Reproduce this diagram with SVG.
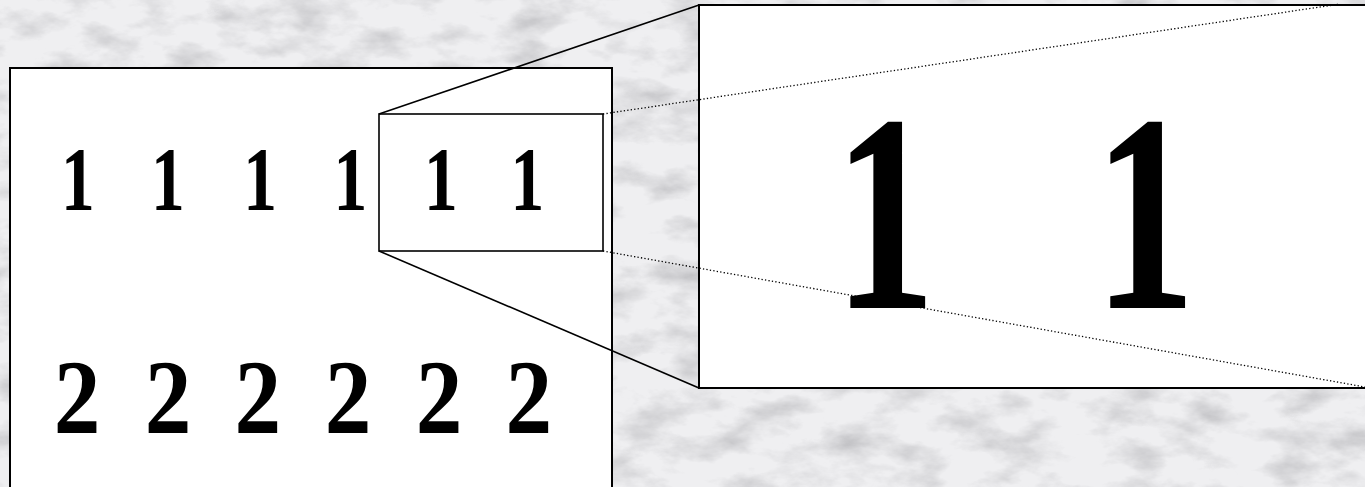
<svg xmlns="http://www.w3.org/2000/svg" width="1365" height="487" viewBox="0 0 1365 487">
<style>
.panel{fill:#fff;stroke:#000;stroke-width:2}
.box{fill:none;stroke:#000;stroke-width:1.6}
.solid{stroke:#000;stroke-width:1.6;fill:none}
.dot{stroke:#000;stroke-width:1.3;stroke-dasharray:1.3 2.2;fill:none}
.dig{font-family:"Liberation Serif","Times New Roman",serif;font-weight:bold;fill:#000;text-anchor:middle}
</style>
<defs>
<filter id="marble" x="0" y="0" width="100%" height="100%">
<feTurbulence type="fractalNoise" baseFrequency="0.018 0.035" numOctaves="5" seed="7"/>
<feColorMatrix type="matrix" values="0 0 0 0 0.45 0 0 0 0 0.45 0 0 0 0 0.47 -1.5 0 0 0 0.85"/>
</filter>
</defs>
<g id="background">
<rect x="0" y="0" width="1365" height="487" fill="#efeff1"/>
<rect x="0" y="0" width="1365" height="487" filter="url(#marble)"/>
</g>
<g id="source-panel">
<rect class="panel" x="10" y="68" width="602" height="430"/>
<g transform="scale(0.75 1)">
<text class="dig" font-size="90" y="210" x="104 224 347 467 588 703">111111</text>
</g>
<g transform="scale(0.88 1)">
<text class="dig" font-size="106" y="433" x="87.5 191 293 395.5 499 601">222222</text>
</g>
</g>
<g id="zoom-box">
<rect class="box" x="379" y="114" width="224" height="137"/>
</g>
<g id="magnified-panel">
<rect class="panel" x="699" y="5" width="700" height="383"/>
<g transform="scale(0.72 1)">
<text class="dig" font-size="282" y="308" x="1229 1590">11</text>
</g>
</g>
<g id="connectors">
<line class="solid" x1="379" y1="114" x2="699" y2="5"/>
<line class="solid" x1="379" y1="251" x2="699" y2="388"/>
<line class="dot" x1="603" y1="114" x2="1340" y2="4"/>
<line class="dot" x1="603" y1="251" x2="1365" y2="387"/>
</g>
</svg>
